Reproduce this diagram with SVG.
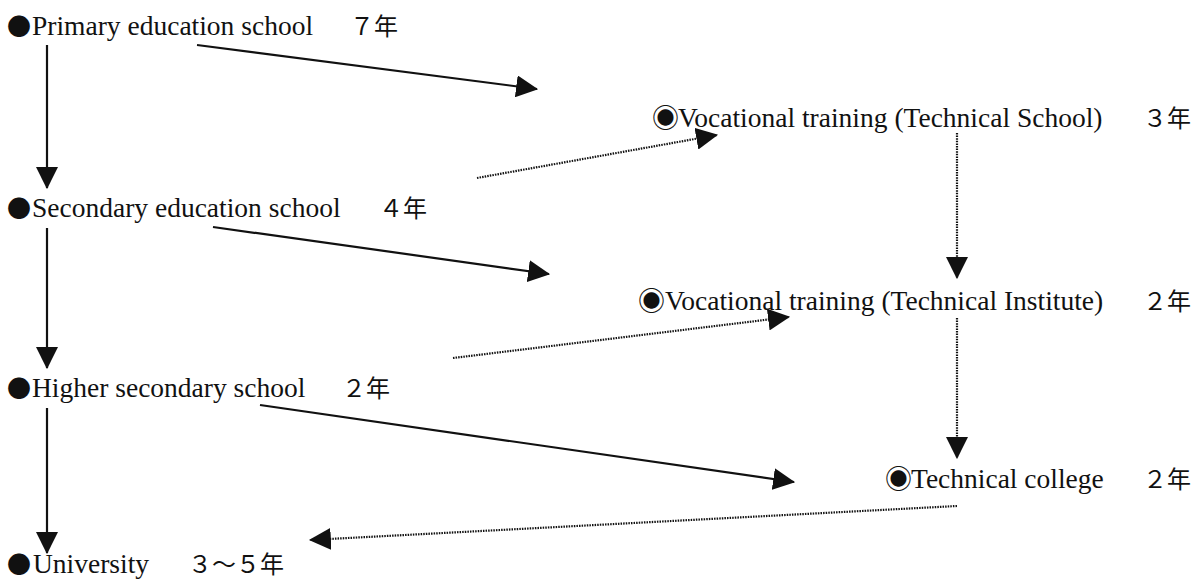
<svg xmlns="http://www.w3.org/2000/svg" width="1196" height="581" viewBox="0 0 1196 581">
  <style>
    .lbl { font-family: "Liberation Serif", "Times New Roman", serif; font-size: 27.5px; fill: #111; }
    .cjk { font-family: "Noto Sans CJK JP", "Noto Sans CJK SC", sans-serif; font-size: 24px; fill: #111; }
    .mark { font-family: "Noto Sans CJK JP", "DejaVu Sans", sans-serif; font-size: 24px; fill: #111; }
    .mark2 { font-family: "Noto Sans CJK JP", "DejaVu Sans", sans-serif; font-size: 27px; fill: #111; }
    .solid { stroke: #111; stroke-width: 2.2; fill: none; marker-end: url(#ah); }
    .dot { stroke: #111; stroke-width: 2.2; fill: none; stroke-dasharray: 1.5 1.1; marker-end: url(#ah); }
  </style>
  <defs>
    <marker id="ah" markerUnits="userSpaceOnUse" markerWidth="22" markerHeight="22" viewBox="0 0 20 20" refX="19" refY="10" orient="auto">
      <path d="M0,0 L20,10 L0,20 z" fill="#111"/>
    </marker>
  </defs>
  <rect width="1196" height="581" fill="#ffffff"/>

  <g id="connectors">
    <line class="solid" x1="47" y1="45" x2="47" y2="188"/>
    <line class="solid" x1="47" y1="228" x2="47" y2="368"/>
    <line class="solid" x1="47" y1="408" x2="47" y2="553"/>
    <line class="solid" x1="197" y1="45" x2="537" y2="89"/>
    <line class="solid" x1="213" y1="227" x2="549" y2="274"/>
    <line class="solid" x1="260" y1="405" x2="794" y2="482"/>
    <line class="dot" x1="477" y1="178" x2="717" y2="135"/>
    <line class="dot" x1="453" y1="358" x2="789" y2="317"/>
    <line class="dot" x1="957" y1="133" x2="957" y2="278"/>
    <line class="dot" x1="957" y1="318" x2="957" y2="458"/>
    <line class="dot" x1="957" y1="506" x2="310" y2="540"/>
  </g>

  <g id="primary">
    <text class="mark" x="7" y="35">●</text>
    <text class="lbl" x="32" y="35">Primary education school</text>
    <text class="cjk" x="398" y="35" text-anchor="end">７年</text>
  </g>
  <g id="secondary">
    <text class="mark" x="7" y="217">●</text>
    <text class="lbl" x="32" y="217">Secondary education school</text>
    <text class="cjk" x="427" y="217" text-anchor="end">４年</text>
  </g>
  <g id="higher">
    <text class="mark" x="7" y="397">●</text>
    <text class="lbl" x="32" y="397">Higher secondary school</text>
    <text class="cjk" x="390" y="397" text-anchor="end">２年</text>
  </g>
  <g id="university">
    <text class="mark" x="7" y="573">●</text>
    <text class="lbl" x="33" y="573">University</text>
    <text class="cjk" x="284" y="573" text-anchor="end">３～５年</text>
  </g>
  <g id="tech-school">
    <text class="mark2" x="652" y="128">◉</text>
    <text class="lbl" x="678" y="127">Vocational training (Technical School)</text>
    <text class="cjk" x="1191" y="127" text-anchor="end">３年</text>
  </g>
  <g id="tech-institute">
    <text class="mark2" x="638" y="311">◉</text>
    <text class="lbl" x="665" y="310">Vocational training (Technical Institute)</text>
    <text class="cjk" x="1191" y="310" text-anchor="end">２年</text>
  </g>
  <g id="tech-college">
    <text class="mark2" x="885" y="489">◉</text>
    <text class="lbl" x="911" y="488">Technical college</text>
    <text class="cjk" x="1191" y="488" text-anchor="end">２年</text>
  </g>
</svg>
